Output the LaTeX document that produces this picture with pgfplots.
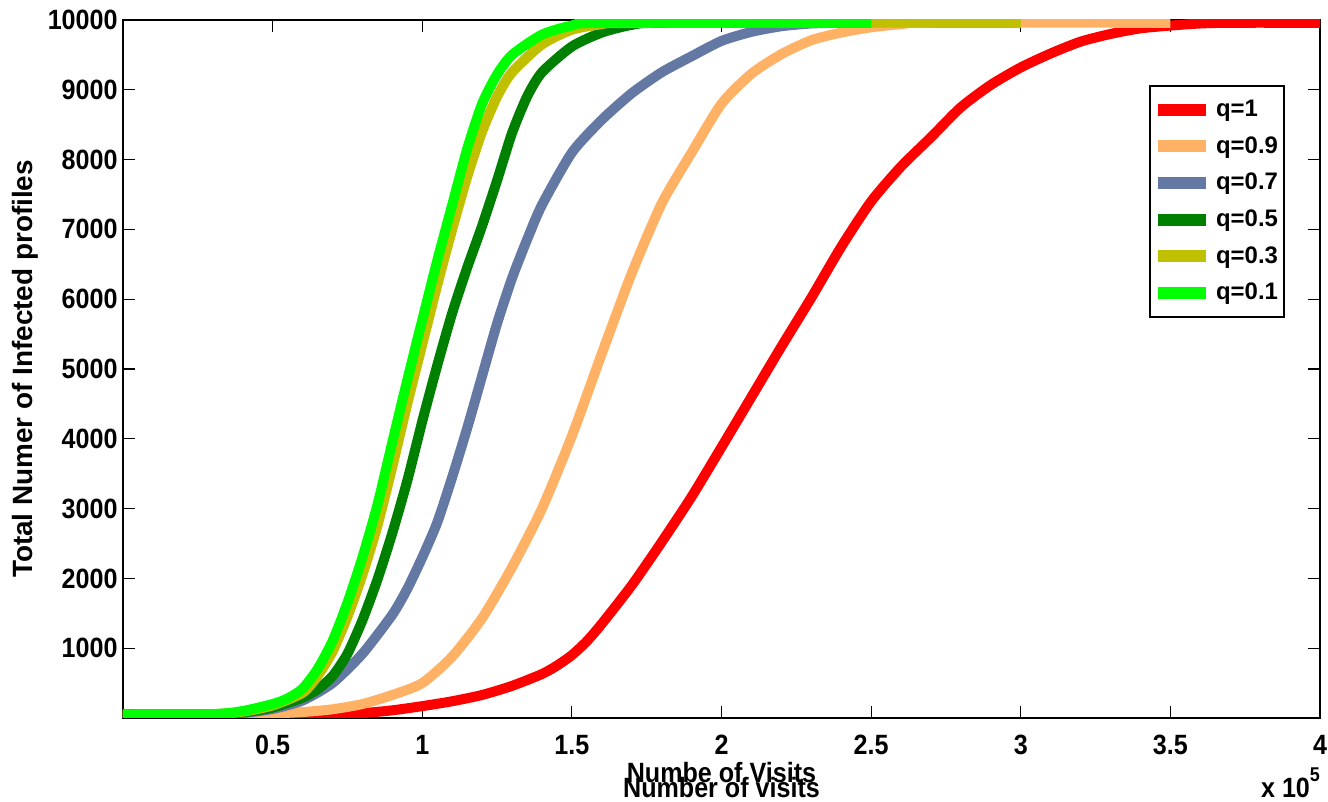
\documentclass[border=0pt]{standalone}
\usepackage{fontspec}
\setmainfont{Liberation Sans}
\newfontfamily\narrowsans{Liberation Sans}[FakeStretch=0.9]
\usepackage{pgfplots}
\pgfplotsset{compat=1.18}
\definecolor{cqa}{RGB}{255,0,0}
\definecolor{cqb}{RGB}{255,178,102}
\definecolor{cqc}{RGB}{99,120,163}
\definecolor{cqd}{RGB}{0,128,0}
\definecolor{cqe}{RGB}{192,192,0}
\definecolor{cqf}{RGB}{0,255,0}
\begin{document}
\begin{tikzpicture}
\path[use as bounding box] (-61.5bp,-42bp) rectangle (602.5bp,359bp);
\begin{axis}[
  scale only axis, width=598.5bp, height=349bp,
  xmin=0, xmax=4, ymin=0, ymax=10000,
  clip mode=individual,
  axis line style={line width=0.75bp},
  tick align=inside, major tick length=6bp,
  every tick/.style={black, line width=0.6bp},
  xtick={0.5,1,1.5,2,2.5,3,3.5,4},
  xticklabels={0.5,1,1.5,2,2.5,3,3.5,4},
  ytick={1000,2000,3000,4000,5000,6000,7000,8000,9000,10000},
  yticklabels={1000,2000,3000,4000,5000,6000,7000,8000,9000,10000},
  tick label style={font=\narrowsans\bfseries\fontsize{14}{16}\selectfont},
  xticklabel style={inner sep=0pt, yshift=-8.5bp},
  yticklabel style={inner sep=0pt, xshift=-2.5bp},
  ylabel={Total Numer of Infected profiles},
  ylabel style={font=\bfseries\fontsize{14}{16}\selectfont, at={(axis description cs:-0.0819,0.5)}, anchor=center},
  legend style={at={(axis description cs:0.9707,0.9069)}, anchor=north east,
    draw=black, line width=1bp, inner xsep=1bp, inner ysep=5bp, row sep=4.5bp,
    font=\bfseries\fontsize{12}{13}\selectfont},
  legend cell align=left,
  legend image code/.code={\draw[#1, line width=6bp] (0bp,0bp) -- (24bp,0bp);},
  every axis plot/.append style={line width=5bp, smooth, tension=0.4},
]
% q=1
\addplot[cqa] coordinates {(0,50) (0.3,50) (0.5,50) (0.7,55) (0.8,70) (0.9,110) (1.0,170) (1.1,240) (1.2,330) (1.3,460) (1.4,630) (1.45,750) (1.5,900) (1.55,1100) (1.6,1350) (1.7,1900) (1.8,2520) (1.9,3170) (2.0,3880) (2.1,4600) (2.2,5320) (2.3,6020) (2.4,6750) (2.5,7400) (2.6,7900) (2.7,8320) (2.8,8750) (2.9,9070) (3.0,9320) (3.1,9520) (3.2,9690) (3.3,9800) (3.4,9880) (3.5,9920) (3.6,9950) (3.7,9960) (4.0,9960)};
% q=0.9
\addplot[cqb] coordinates {(0,50) (0.3,50) (0.4,55) (0.5,65) (0.6,85) (0.7,125) (0.8,200) (0.9,330) (1.0,500) (1.1,880) (1.2,1430) (1.3,2160) (1.4,3000) (1.5,4040) (1.6,5220) (1.7,6370) (1.8,7370) (1.9,8100) (2.0,8800) (2.1,9230) (2.2,9510) (2.3,9710) (2.4,9820) (2.5,9895) (2.6,9940) (2.7,9960) (3.5,9960)};
% q=0.7
\addplot[cqc] coordinates {(0,50) (0.3,52) (0.4,70) (0.5,130) (0.6,250) (0.7,500) (0.8,920) (0.9,1480) (0.95,1850) (1.0,2300) (1.05,2800) (1.1,3450) (1.15,4150) (1.2,4900) (1.25,5650) (1.3,6300) (1.35,6850) (1.4,7350) (1.5,8100) (1.6,8570) (1.7,8950) (1.8,9250) (1.9,9480) (2.0,9700) (2.1,9830) (2.2,9910) (2.3,9950) (2.4,9960) (2.5,9960)};
% q=0.5
\addplot[cqd] coordinates {(0,50) (0.3,55) (0.4,80) (0.5,150) (0.6,290) (0.65,410) (0.7,600) (0.75,920) (0.8,1400) (0.85,1980) (0.9,2650) (0.95,3400) (1.0,4250) (1.05,5050) (1.1,5800) (1.15,6450) (1.2,7050) (1.25,7700) (1.3,8380) (1.35,8900) (1.4,9250) (1.5,9620) (1.6,9820) (1.7,9930) (1.8,9960) (2.5,9960)};
% q=0.3
\addplot[cqe] coordinates {(0,50) (0.3,55) (0.4,90) (0.5,180) (0.6,360) (0.65,600) (0.7,950) (0.75,1450) (0.8,2050) (0.85,2750) (0.9,3600) (0.95,4500) (1.0,5350) (1.05,6200) (1.1,7000) (1.15,7750) (1.2,8400) (1.25,8900) (1.3,9250) (1.4,9650) (1.5,9860) (1.6,9940) (1.7,9960) (3.0,9960)};
% q=0.1
\addplot[cqf] coordinates {(0,50) (0.3,55) (0.4,100) (0.5,200) (0.55,280) (0.6,420) (0.65,700) (0.7,1100) (0.75,1650) (0.8,2300) (0.85,3050) (0.9,3950) (0.95,4840) (1.0,5700) (1.05,6550) (1.1,7350) (1.15,8150) (1.2,8800) (1.25,9220) (1.3,9500) (1.4,9790) (1.5,9920) (1.6,9960) (2.5,9960)};
\legend{q=1, q=0.9, q=0.7, q=0.5, q=0.3, q=0.1}
\node[font=\narrowsans\bfseries\fontsize{14}{16}\selectfont, anchor=base] at (axis description cs:0.5,-0.0931) {Numbe of Visits};
\node[font=\narrowsans\bfseries\fontsize{14}{16}\selectfont, anchor=base] at (axis description cs:0.5,-0.1146) {Number of visits};
\node[font=\narrowsans\bfseries\fontsize{14}{16}\selectfont, anchor=base east, xshift=3.5bp] at (axis description cs:1,-0.1146) {x 10\raisebox{1.1ex}{\fontsize{10}{10}\selectfont 5}};
\end{axis}
\end{tikzpicture}
\end{document}
